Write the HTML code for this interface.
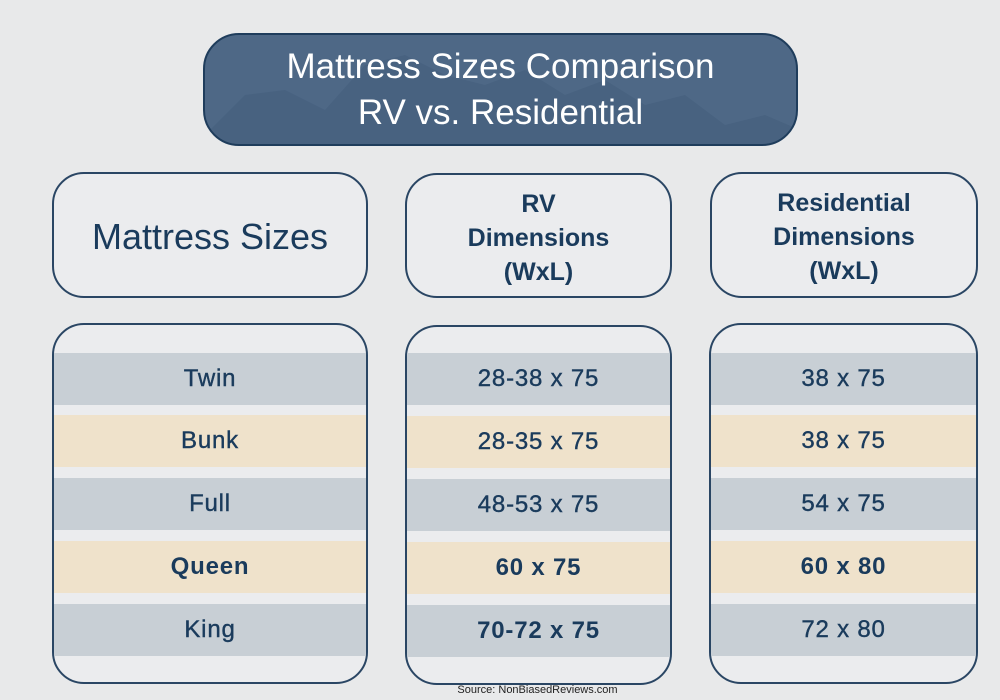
<!DOCTYPE html>
<html><head><style>
body{margin:0;width:1000px;height:700px;background:#e8e9ea;position:relative;overflow:hidden;font-family:"Liberation Sans",sans-serif;color:#1a3b5c}
.b{position:absolute;box-sizing:border-box;border:2px solid #2a4664;border-radius:32px;background:#ebecee;overflow:hidden}
.t{position:absolute;left:203px;top:33px;width:595px;height:113px;background:#4e6886;border:2px solid #1f3d5c;border-radius:36px;box-sizing:border-box;color:#fff;text-align:center;font-size:35px;line-height:46px;padding-top:9px;overflow:hidden}
.h{display:flex;align-items:center;justify-content:center;text-align:center;font-weight:bold;font-size:25px;line-height:34px;padding-top:4px}
.r{position:absolute;left:0;width:100%;height:52px;text-align:center;line-height:52px;font-size:24px;letter-spacing:0.8px;font-weight:bold}
.n{font-weight:normal;-webkit-text-stroke:0.4px #1a3b5c}
.g{background:#c8cfd5}.y{background:#efe2cb}
</style></head><body>
<div class="t"><svg style="position:absolute;left:0;top:0" width="595" height="113"><polygon points="0,100 40,60 80,55 120,75 160,30 200,20 240,40 280,50 320,35 360,60 400,45 440,70 480,60 520,90 560,80 595,95 595,113 0,113" fill="#455f7d" opacity="0.6"/></svg><span style="position:relative">Mattress Sizes Comparison<br>RV vs. Residential</span></div>
<div class="b h" style="left:52px;top:172px;width:316px;height:126px;font-size:36px;font-weight:normal">Mattress Sizes</div>
<div class="b h" style="left:405px;top:173px;width:267px;height:125px">RV<br>Dimensions<br>(WxL)</div>
<div class="b h" style="left:710px;top:172px;width:268px;height:126px">Residential<br>Dimensions<br>(WxL)</div>
<div class="b" style="left:52px;top:323px;width:316px;height:361px">
<div class="r g n" style="top:28px">Twin</div><div class="r y n" style="top:90px">Bunk</div><div class="r g n" style="top:153px">Full</div><div class="r y" style="top:216px">Queen</div><div class="r g n" style="top:279px">King</div></div>
<div class="b" style="left:405px;top:325px;width:267px;height:360px">
<div class="r g n" style="top:26px">28-38 x 75</div><div class="r y n" style="top:89px">28-35 x 75</div><div class="r g n" style="top:152px">48-53 x 75</div><div class="r y" style="top:215px">60 x 75</div><div class="r g" style="top:278px">70-72 x 75</div></div>
<div class="b" style="left:709px;top:323px;width:269px;height:361px">
<div class="r g n" style="top:28px">38 x 75</div><div class="r y n" style="top:90px">38 x 75</div><div class="r g n" style="top:153px">54 x 75</div><div class="r y" style="top:216px">60 x 80</div><div class="r g n" style="top:279px">72 x 80</div></div>
<div style="position:absolute;left:0;width:1000px;top:684px;text-align:center;font-size:11px;color:#222;padding-left:75px;box-sizing:border-box">Source: NonBiasedReviews.com</div>
</body></html>
